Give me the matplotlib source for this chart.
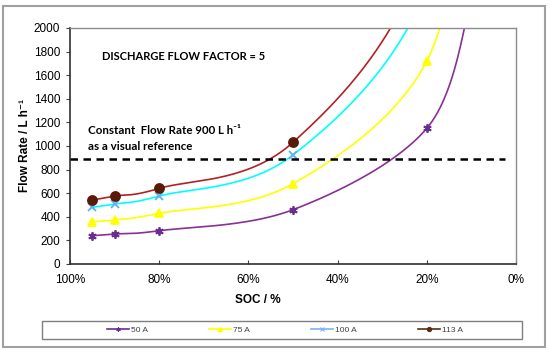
import numpy as np
import matplotlib.pyplot as plt
from matplotlib.lines import Line2D
from matplotlib.patches import Rectangle

plt.rcParams['font.family'] = ['Liberation Sans', 'DejaVu Sans']

soc = [95, 90, 80, 50, 20, 10]
flow_50 = [240, 254, 282, 460, 1150, 2250]
flow_75 = [359, 373, 429, 680, 1720, 3600]
flow_100 = [480, 508, 576, 924, 2350, 5000]
flow_113 = [542, 576, 641, 1031, 2700, 6000]
ref_x = [100, 2.5]
ref_y = [888, 888]

x_ticks = [100, 80, 60, 40, 20, 0]
x_labels = ['100%', '80%', '60%', '40%', '20%', '0%']
y_ticks = list(range(0, 2001, 200))


def smooth(xs, ys, n=60):
    # excel-like smoothed line: catmull-rom bezier in screen units
    p = np.column_stack([(100 - np.array(xs, float)) * 4.46, np.array(ys, float) * 0.118])
    p = np.vstack([p[0], p, p[-1]])
    out = []
    t = np.linspace(0, 1, n)[:, None]
    for i in range(1, len(p) - 2):
        b0 = p[i]
        b1 = p[i] + (p[i + 1] - p[i - 1]) / 6
        b2 = p[i + 1] - (p[i + 2] - p[i]) / 6
        b3 = p[i + 1]
        seg = (1 - t) ** 3 * b0 + 3 * (1 - t) ** 2 * t * b1 + 3 * (1 - t) * t ** 2 * b2 + t ** 3 * b3
        out.append(seg)
    s = np.vstack(out)
    return 100 - s[:, 0] / 4.46, s[:, 1] / 0.118


fig = plt.figure(figsize=(5.5, 3.53), dpi=100)
ax = fig.add_axes([70 / 550, 1 - 264 / 353, 446 / 550, 236 / 353])

series = [
    (flow_50, '#8a2f98', '#6a2c91', (6, 2, 0), 6, '50 A', '#6a2c91'),
    (flow_75, '#ffff00', '#ffff00', '^', 6, '75 A', '#ffff00'),
    (flow_100, '#00ffff', '#5fb0f0', 'x', 5.5, '100 A', '#7fb2f0'),
    (flow_113, '#b22222', '#5a1a08', 'o', 6.5, '113 A', '#5a2c10'),
]
handles = []
for ys, lc, mc, mk, ms, lab, legc in series:
    sx, sy = smooth(soc, ys)
    ax.plot(sx, sy, color=lc, lw=1.2, zorder=2)
    ax.plot(soc, ys, ls='none', marker=mk, ms=ms, color=mc, mec=mc, mew=1.3, zorder=3)
    handles.append(Line2D([], [], color=legc, lw=1.2, marker=mk, ms=3, mew=0.8, label=lab))

ax.plot(ref_x, ref_y, color='black', lw=1.8, ls=(0, (3, 2.2)), zorder=4)

ax.set_xlim(100, 0)
ax.set_ylim(0, 2000)
ax.set_xticks(x_ticks)
ax.set_xticklabels(x_labels)
ax.set_yticks(y_ticks)
ax.tick_params(axis='x', direction='in', length=3, pad=7, labelsize=8.5, color='#404040')
ax.tick_params(axis='y', direction='out', length=3, pad=4, labelsize=8.5, color='#404040')
for s in ['left', 'bottom']:
    ax.spines[s].set_color('#303030')
    ax.spines[s].set_linewidth(1.2)
for s in ['top', 'right']:
    ax.spines[s].set_color('#8c8c8c')
    ax.spines[s].set_linewidth(1.0)

fig.text(25 / 550, 1 - 146 / 353, 'Flow Rate / L h\u207b\u00b9', rotation=90, ha='center', va='center',
         fontsize=8.5, fontweight='bold')
fig.text(258 / 550, 1 - 300 / 353, 'SOC / %', ha='center', va='center', fontsize=8.5, fontweight='bold')

note_font = ['Lato', 'DejaVu Sans']
fig.text(102 / 550, 1 - 57 / 353, 'DISCHARGE FLOW FACTOR = 5', ha='left', va='center',
         fontsize=8, fontweight='bold', family=note_font)
fig.text(88 / 550, 1 - 130 / 353, 'Constant  Flow Rate 900 L h\u207b\u00b9', ha='left', va='center',
         fontsize=8.3, fontweight='bold', family=note_font)
fig.text(88 / 550, 1 - 146 / 353, 'as a visual reference', ha='left', va='center',
         fontsize=8.3, fontweight='bold', family=note_font)

fig.legend(handles=handles, loc='center', bbox_to_anchor=(285 / 550, 1 - 330 / 353), ncol=4,
           frameon=False, fontsize=6, handlelength=2.65, handletextpad=0.25, columnspacing=7.3,
           labelcolor='#404040')
fig.patches.append(Rectangle((42 / 550, 1 - 339 / 353), 480 / 550, 18 / 353, transform=fig.transFigure,
                             fill=False, edgecolor='#7f7f7f', lw=1.0))
fig.patches.append(Rectangle((3 / 550, 1 - 347 / 353), 542 / 550, 341 / 353, transform=fig.transFigure,
                             fill=False, edgecolor='#a0a0a0', lw=1.5))

fig.savefig('out.png', dpi=100)
